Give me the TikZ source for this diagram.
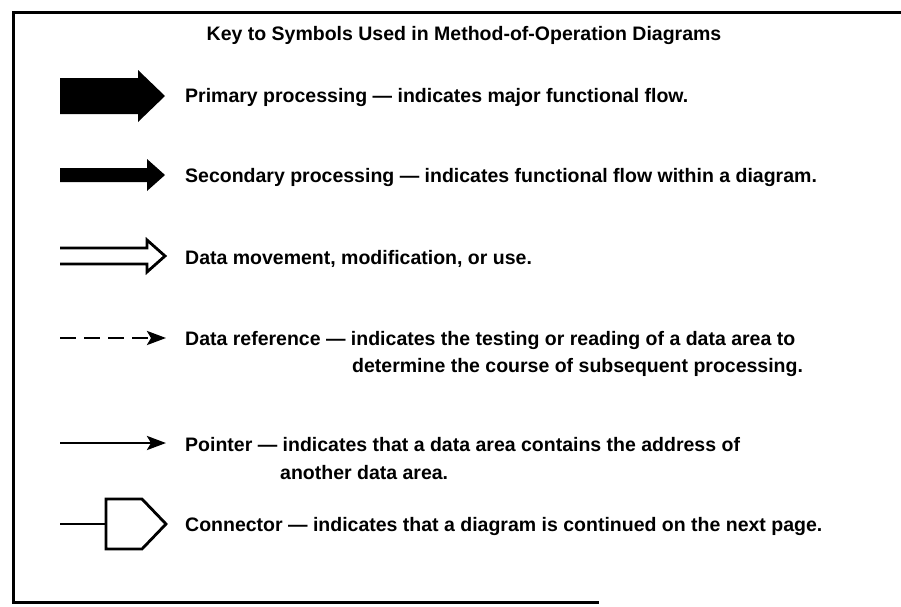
\documentclass[tikz,border=0pt]{standalone}
\usepackage{fontspec}
\setmainfont{Liberation Sans}
\usetikzlibrary{arrows.meta}
\begin{document}
\begin{tikzpicture}[x=1pt,y=-1pt,
  lbl/.style={anchor=west,inner sep=0pt,text height=14pt,text depth=0pt,
    font=\fontsize{19.5}{24}\selectfont\bfseries},
  frame/.style={line width=3pt,line cap=rect},
  thinline/.style={line width=2.6pt},
  outline/.style={line width=2.8pt,line join=miter},
  ptrtip/.style={-{Stealth[length=19pt,width=14pt,inset=4pt]}}]
\useasboundingbox (0,0) rectangle (901,606);

% frame (open on the right)
\draw[frame] (901,12) -- (13,12) -- (13,602) -- (597,602);

% heading
\node[lbl,anchor=center] (title) at (464,33)
  {Key to Symbols Used in Method-of-Operation Diagrams};

% primary processing: wide solid arrow
\fill (60,78) -- (138,78) -- (138,70) -- (165,96) -- (138,122) -- (138,114) -- (60,114) -- cycle;
\node[lbl] (prim) at (185,95) {Primary processing --- indicates major functional flow.};

% secondary processing: narrower solid arrow
\fill (60,168) -- (147,168) -- (147,159) -- (165,175) -- (147,191) -- (147,182) -- (60,182) -- cycle;
\node[lbl] (sec) at (185,175) {Secondary processing --- indicates functional flow within a diagram.};

% data movement: hollow double-line arrow
\draw[outline] (60,248) -- (147,248) -- (147,240) -- (165,256) -- (147,272) -- (147,264) -- (60,264);
\node[lbl] (mov) at (185,257) {Data movement, modification, or use.};

% data reference: dashed arrow
\draw[thinline,dash pattern=on 16pt off 8pt,ptrtip] (60,338) -- (166,338);
\node[lbl] (ref1) at (185,338) {Data reference --- indicates the testing or reading of a data area to};
\node[lbl] (ref2) at (352,365) {determine the course of subsequent processing.};

% pointer: solid arrow
\draw[thinline,ptrtip] (60,443) -- (166,443);
\node[lbl] (ptr1) at (185,444) {Pointer --- indicates that a data area contains the address of};
\node[lbl] (ptr2) at (280,472) {another data area.};

% off-page connector
\draw[outline] (106,499) -- (142,499) -- (166,524) -- (142,549) -- (106,549) -- cycle;
\draw[thinline] (60,524) -- (106,524);
\node[lbl] (con) at (185,524) {Connector --- indicates that a diagram is continued on the next page.};
\end{tikzpicture}
\end{document}
